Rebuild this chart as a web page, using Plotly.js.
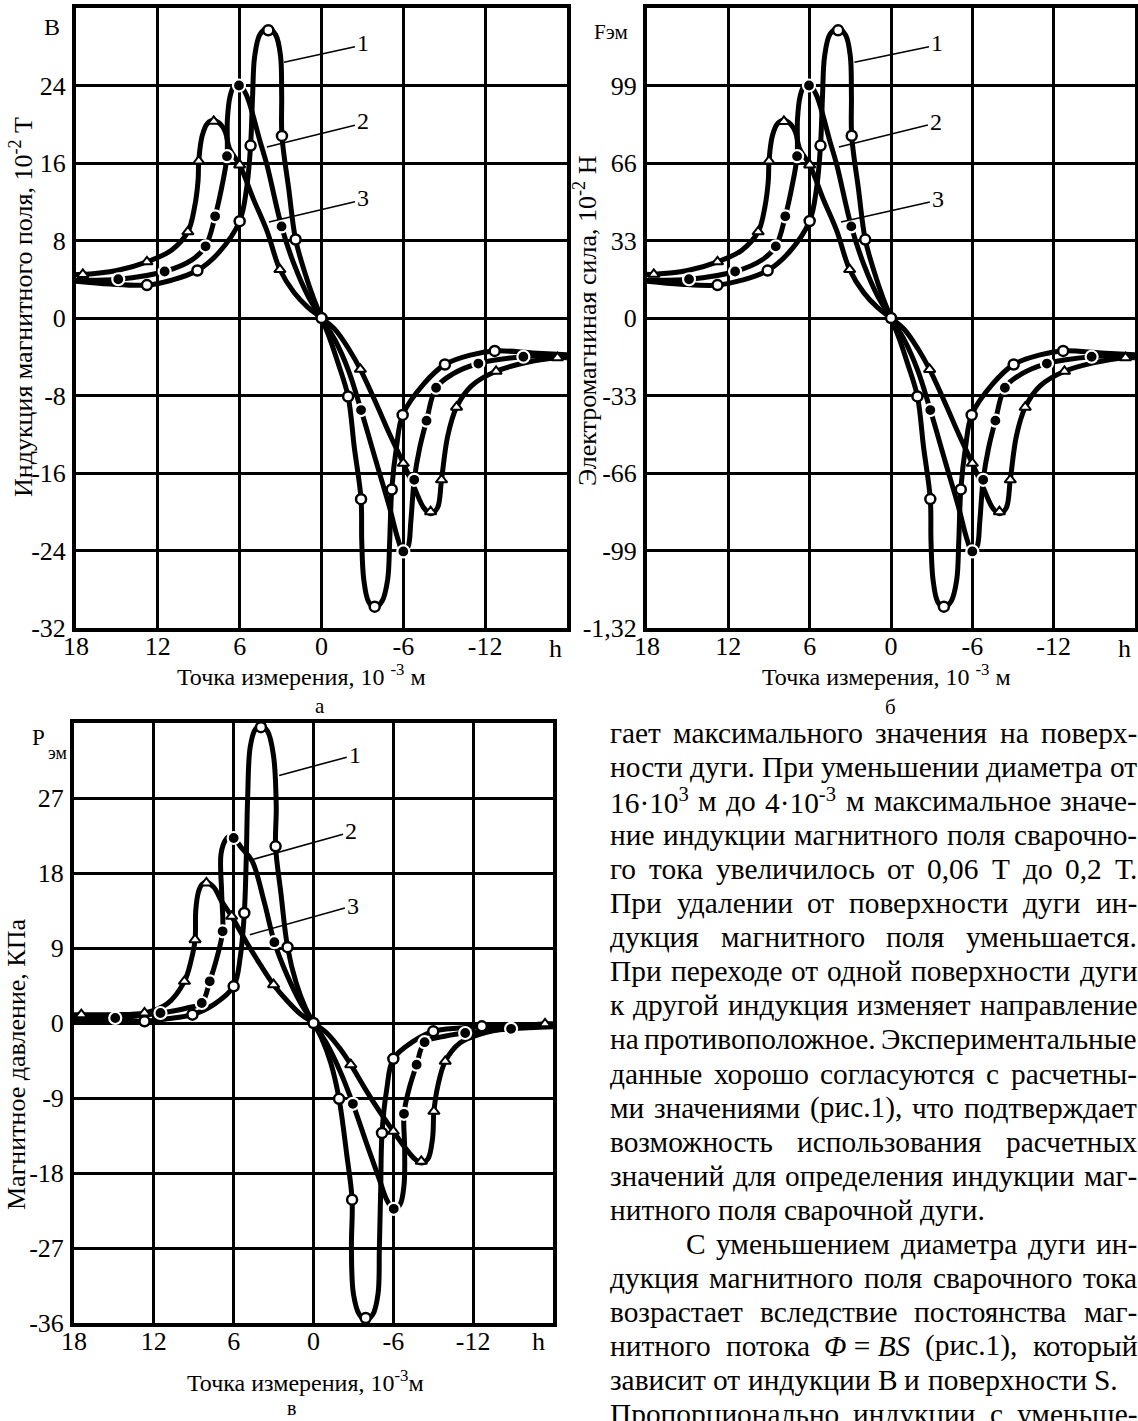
<!DOCTYPE html>
<html><head><meta charset="utf-8">
<script src="https://cdn.plot.ly/plotly-3.0.1.min.js"></script>
<style>html,body{margin:0;padding:0;background:#fff;overflow:hidden}#chart{width:1138px;height:1421px}</style>
</head><body><div id="chart"></div>
<script>
// ---------- tick labels ----------
const xTickVals = [18, 12, 6, 0, -6, -12];
const xTickText = ['18', '12', '6', '0', '-6', '-12'];
const yTickValsA = [-32, -24, -16, -8, 0, 8, 16, 24];
const yTickTextA = ['-32', '-24', '-16', '-8', '0', '8', '16', '24'];
const yTickValsB = [-132, -99, -66, -33, 0, 33, 66, 99];
const yTickTextB = ['-1,32', '-99', '-66', '-33', '0', '33', '66', '99'];
const yTickValsC = [-36, -27, -18, -9, 0, 9, 18, 27];
const yTickTextC = ['-36', '-27', '-18', '-9', '0', '9', '18', '27'];
const curveNames = ['1', '2', '3'];

// ---------- panel а : induction B, 10^-2 T ----------
const aLine1X = [18, 15.5, 12.8, 11, 9.1, 7.5, 6.0, 5.5, 5.2, 5.05, 4.9, 4.5, 3.9, 3.35, 3.0, 2.92, 2.9, 2.4, 1.9, 1.2, 0.6, 0, -0.6, -1.2, -1.95, -2.4, -2.9, -2.95, -3.1, -3.45, -3.9, -4.45, -4.85, -5.0, -5.15, -5.5, -5.95, -7.5, -9.05, -11, -12.7, -15.5, -18];
const aLine1Y = [3.8, 3.5, 3.4, 3.9, 4.9, 6.8, 10.0, 13.3, 17.8, 23.0, 27.0, 29.3, 29.9, 29.2, 27.0, 23.0, 18.8, 13.3, 8.1, 4.6, 2.1, 0, -2.1, -4.6, -8.1, -13.3, -18.7, -23.0, -27.0, -29.3, -29.9, -29.2, -27.0, -23.0, -17.7, -13.3, -10.0, -6.8, -4.8, -3.8, -3.4, -3.6, -3.8];
const aLine2X = [18, 14.9, 11.5, 9.5, 8.5, 7.8, 7.3, 6.93, 6.9, 6.7, 6.4, 6.05, 5.5, 4.5, 4.0, 2.93, 2.0, 1.0, 0, -1.0, -2.0, -2.9, -4.0, -5.0, -5.6, -6.0, -6.35, -6.55, -6.8, -7.2, -7.7, -8.4, -9.6, -11.5, -14.8, -18];
const aLine2Y = [3.9, 4.0, 4.8, 6.0, 7.4, 10.5, 13.6, 16.7, 20.5, 22.9, 24.0, 24.2, 23.0, 18.2, 15.8, 9.45, 5.5, 2.3, 0, -2.3, -5.5, -9.5, -14.8, -19.6, -22.8, -24.2, -23.6, -21.0, -16.7, -13.4, -10.6, -7.2, -5.8, -4.7, -4.0, -3.9];
const aLine3X = [18, 17.5, 15, 12.8, 11, 9.8, 9.3, 9.05, 9.0, 8.75, 8.35, 7.9, 7.4, 7.05, 6.75, 6.0, 5.0, 4.0, 3.05, 2.0, 1.0, 0, -1.0, -2.0, -2.85, -4.0, -5.0, -6.0, -6.8, -7.5, -8.0, -8.5, -8.8, -9.25, -9.9, -11, -12.8, -15, -17.3, -18];
const aLine3Y = [4.5, 4.5, 4.9, 5.8, 7.0, 8.9, 11.5, 14.2, 16.2, 18.8, 20.1, 20.4, 20.0, 19.2, 17.5, 15.8, 12.3, 9.0, 5.0, 2.6, 1.1, 0, -1.2, -3.2, -5.3, -8.8, -12.0, -15.0, -17.5, -19.6, -20.2, -19.6, -16.7, -12.2, -9.2, -7.0, -5.5, -4.6, -4.1, -4.1];
const aMark1X = [12.8, 9.1, 6.0, 5.2, 3.9, 2.9, 1.9, 0, -1.95, -2.9, -3.9, -5.15, -5.95, -9.05, -12.7];
const aMark1Y = [3.4, 4.9, 10.0, 17.8, 29.7, 18.8, 8.1, 0, -8.1, -18.7, -29.8, -17.7, -10.0, -4.8, -3.4];
const aMark2X = [14.9, 11.5, 8.5, 7.8, 6.93, 6.05, 2.93, -2.9, -6.0, -6.8, -7.7, -8.4, -11.5, -14.8];
const aMark2Y = [4.0, 4.8, 7.4, 10.5, 16.7, 24.0, 9.45, -9.5, -24.1, -16.7, -10.6, -7.2, -4.7, -4.0];
const aMark3X = [17.5, 12.8, 9.8, 9.0, 7.9, 6.0, 3.05, -2.85, -6.0, -8.0, -8.8, -9.9, -12.8, -17.3];
const aMark3Y = [4.5, 5.8, 8.9, 16.2, 20.3, 15.8, 5.0, -5.3, -15.0, -20.0, -16.7, -9.2, -5.5, -4.1];

// ---------- panel б : electromagnetic force, 10^-2 N ----------
const bLine1X = [18, 15.5, 12.8, 11, 9.1, 7.5, 6.0, 5.5, 5.2, 5.05, 4.9, 4.5, 3.9, 3.35, 3.0, 2.92, 2.9, 2.4, 1.9, 1.2, 0.6, 0, -0.6, -1.2, -1.95, -2.4, -2.9, -2.95, -3.1, -3.45, -3.9, -4.45, -4.85, -5.0, -5.15, -5.5, -5.95, -7.5, -9.05, -11, -12.7, -15.5, -18];
const bLine1Y = [15.7, 14.4, 14.0, 16.1, 20.2, 28.1, 41.3, 54.9, 73.4, 94.9, 111.4, 120.9, 123.3, 120.5, 111.4, 94.9, 77.6, 54.9, 33.4, 19.0, 8.7, 0, -8.7, -19.0, -33.4, -54.9, -77.1, -94.9, -111.4, -120.9, -123.3, -120.5, -111.4, -94.9, -73.0, -54.9, -41.3, -28.1, -19.8, -15.7, -14.0, -14.9, -15.7];
const bLine2X = [18, 14.9, 11.5, 9.5, 8.5, 7.8, 7.3, 6.93, 6.9, 6.7, 6.4, 6.05, 5.5, 4.5, 4.0, 2.93, 2.0, 1.0, 0, -1.0, -2.0, -2.9, -4.0, -5.0, -5.6, -6.0, -6.35, -6.55, -6.8, -7.2, -7.7, -8.4, -9.6, -11.5, -14.8, -18];
const bLine2Y = [16.1, 16.5, 19.8, 24.8, 30.5, 43.3, 56.1, 68.9, 84.6, 94.5, 99.0, 99.8, 94.9, 75.1, 65.2, 39.0, 22.7, 9.5, 0, -9.5, -22.7, -39.2, -61.1, -80.9, -94.1, -99.8, -97.4, -86.6, -68.9, -55.3, -43.7, -29.7, -23.9, -19.4, -16.5, -16.1];
const bLine3X = [18, 17.5, 15, 12.8, 11, 9.8, 9.3, 9.05, 9.0, 8.75, 8.35, 7.9, 7.4, 7.05, 6.75, 6.0, 5.0, 4.0, 3.05, 2.0, 1.0, 0, -1.0, -2.0, -2.85, -4.0, -5.0, -6.0, -6.8, -7.5, -8.0, -8.5, -8.8, -9.25, -9.9, -11, -12.8, -15, -17.3, -18];
const bLine3Y = [18.6, 18.6, 20.2, 23.9, 28.9, 36.7, 47.4, 58.6, 66.8, 77.6, 82.9, 84.2, 82.5, 79.2, 72.2, 65.2, 50.7, 37.1, 20.6, 10.7, 4.5, 0, -5.0, -13.2, -21.9, -36.3, -49.5, -61.9, -72.2, -80.9, -83.3, -80.9, -68.9, -50.3, -38.0, -28.9, -22.7, -19.0, -16.9, -16.9];
const bMark1X = [12.8, 9.1, 6.0, 5.2, 3.9, 2.9, 1.9, 0, -1.95, -2.9, -3.9, -5.15, -5.95, -9.05, -12.7];
const bMark1Y = [14.0, 20.2, 41.3, 73.4, 122.5, 77.6, 33.4, 0, -33.4, -77.1, -122.9, -73.0, -41.3, -19.8, -14.0];
const bMark2X = [14.9, 11.5, 8.5, 7.8, 6.93, 6.05, 2.93, -2.9, -6.0, -6.8, -7.7, -8.4, -11.5, -14.8];
const bMark2Y = [16.5, 19.8, 30.5, 43.3, 68.9, 99.0, 39.0, -39.2, -99.4, -68.9, -43.7, -29.7, -19.4, -16.5];
const bMark3X = [17.5, 12.8, 9.8, 9.0, 7.9, 6.0, 3.05, -2.85, -6.0, -8.0, -8.8, -9.9, -12.8, -17.3];
const bMark3Y = [18.6, 23.9, 36.7, 66.8, 83.7, 65.2, 20.6, -21.9, -61.9, -82.5, -68.9, -38.0, -22.7, -16.9];

// ---------- panel в : magnetic pressure, kPa ----------
const cLine1X = [18, 15.5, 12.7, 11, 9.1, 7.5, 6.0, 5.5, 5.2, 5.05, 4.95, 4.75, 4.35, 3.95, 3.45, 3.0, 2.8, 2.85, 2.45, 1.95, 1.3, 0.6, 0, -0.6, -1.3, -1.92, -2.5, -2.9, -2.85, -3.0, -3.45, -3.92, -4.45, -4.85, -4.95, -5.05, -5.15, -5.5, -6.0, -7.5, -9.0, -11, -12.65, -15.5, -18];
const cLine1Y = [0.4, 0.25, 0.2, 0.5, 1.0, 2.2, 4.4, 8.0, 13.2, 20.0, 27.0, 33.2, 35.3, 35.6, 35.0, 32.0, 26.0, 21.2, 15.6, 9.1, 4.8, 1.8, 0, -1.8, -4.8, -9.1, -15.8, -21.2, -27.0, -32.5, -35.0, -35.6, -35.0, -32.5, -27.0, -20.0, -13.2, -8.0, -4.3, -2.2, -1.0, -0.6, -0.4, -0.3, -0.25];
const cLine2X = [18, 14.9, 11.5, 9.5, 8.4, 7.8, 7.3, 6.83, 6.9, 6.95, 6.6, 6.25, 6.0, 5.4, 4.6, 3.7, 2.94, 2.0, 1.0, 0, -1.0, -2.0, -2.96, -4.0, -5.0, -5.5, -6.03, -6.5, -6.8, -6.85, -6.8, -7.2, -7.75, -8.35, -9.5, -11.4, -14.85, -18];
const cLine2Y = [0.5, 0.6, 1.2, 1.8, 2.4, 5.0, 7.6, 11.0, 15.5, 20.3, 22.0, 22.4, 22.25, 21.0, 19.4, 14.5, 9.7, 5.8, 2.5, 0, -2.5, -5.8, -9.7, -14.5, -19.0, -21.2, -22.4, -21.8, -19.5, -15.0, -10.9, -7.8, -5.0, -2.3, -1.7, -1.2, -0.7, -0.45];
const cLine3X = [18, 17.45, 15, 12.7, 11, 9.7, 9.2, 8.9, 8.85, 8.65, 8.4, 8.05, 7.5, 6.9, 6.15, 5.0, 4.0, 3.0, 2.0, 1.0, 0, -1.0, -2.0, -2.8, -4.0, -5.0, -6.0, -7.0, -7.6, -8.1, -8.6, -8.95, -9.05, -9.35, -9.9, -11, -12.8, -15, -17.4, -18];
const cLine3Y = [1.0, 1.0, 1.0, 1.2, 2.3, 5.0, 7.5, 10.0, 13.5, 15.7, 16.6, 16.9, 16.3, 14.6, 12.8, 9.6, 7.0, 4.6, 2.7, 1.1, 0, -1.2, -3.1, -5.0, -8.2, -10.7, -13.0, -15.2, -16.3, -16.8, -16.3, -13.8, -10.6, -7.5, -4.6, -2.4, -1.2, -0.5, -0.1, -0.1];
const cMark1X = [12.7, 9.1, 6.0, 5.2, 3.95, 2.85, 1.95, 0, -1.92, -2.9, -3.92, -5.15, -6.0, -9.0, -12.65];
const cMark1Y = [0.2, 1.0, 4.4, 13.2, 35.5, 21.2, 9.1, 0, -9.1, -21.2, -35.4, -13.2, -4.3, -1.0, -0.4];
const cMark2X = [14.9, 11.5, 8.4, 7.8, 6.83, 6.0, 2.94, -2.96, -6.03, -6.8, -7.75, -8.35, -11.4, -14.85];
const cMark2Y = [0.6, 1.2, 2.4, 5.0, 11.0, 22.2, 9.7, -9.7, -22.3, -10.9, -5.0, -2.3, -1.2, -0.7];
const cMark3X = [17.45, 12.7, 9.7, 8.9, 8.05, 6.15, 3.0, -2.8, -6.0, -8.1, -9.05, -9.9, -17.4];
const cMark3Y = [1.0, 1.2, 5.0, 10.0, 16.8, 12.8, 4.6, -5.0, -13.0, -16.6, -10.6, -4.6, -0.1];

// ---------- body text ----------
const bodyLines = [
  ['гает максимального значения на поверх-', 'j'],
  ['ности дуги. При уменьшении диаметра от', 'j'],
  ['16·10<sup>3</sup> м до 4·10<sup>-3</sup> м максимальное значе-', 'j'],
  ['ние индукции магнитного поля сварочно-', 'j'],
  ['го тока увеличилось от 0,06 Т до 0,2 Т.', 'j'],
  ['При удалении от поверхности дуги ин-', 'j'],
  ['дукция магнитного поля уменьшается.', 'j'],
  ['При переходе от одной поверхности дуги', 'j'],
  ['к другой индукция изменяет направление', 'j'],
  ['на противоположное. Экспериментальные', 'j'],
  ['данные хорошо согласуются с расчетны-', 'j'],
  ['ми значениями (рис.1), что подтверждает', 'j'],
  ['возможность использования расчетных', 'j'],
  ['значений для определения индукции маг-', 'j'],
  ['нитного поля сварочной дуги.', 'l'],
  ['С уменьшением диаметра дуги ин-', 'ji'],
  ['дукция магнитного поля сварочного тока', 'j'],
  ['возрастает вследствие постоянства маг-', 'j'],
  ['нитного потока <i>Φ</i>\u00a0=\u00a0<i>BS</i> (рис.1), который', 'j'],
  ['зависит от индукции В и поверхности S.', 'l'],
  ['Пропорционально индукции с уменьше-', 'j']
];

// ================= drawing =================
const W = 1138, H = 1421;
const FONT = 'Liberation Serif, Times New Roman, serif';
const px = v => v / W, py = v => 1 - v / H;

const lineStyle = {color: '#000', width: 5, shape: 'spline', smoothing: 1};
const markStyles = [
  {symbol: 'circle', size: 10, color: '#fff', line: {color: '#000', width: 2.5}},
  {symbol: 'circle', size: 12, color: '#000', line: {color: '#fff', width: 2.2}},
  {symbol: 'triangle-up', size: 10, color: '#fff', line: {color: '#000', width: 2}}
];
function panelTraces(xa, ya, lines, marks) {
  const t = [];
  lines.forEach((l, i) => t.push({x: l[0], y: l[1], xaxis: xa, yaxis: ya, type: 'scatter', mode: 'lines',
    line: lineStyle, name: 'кривая ' + curveNames[i], hoverinfo: 'skip', showlegend: false}));
  marks.forEach((m, i) => t.push({x: m[0], y: m[1], xaxis: xa, yaxis: ya, type: 'scatter', mode: 'markers',
    marker: markStyles[i], name: 'кривая ' + curveNames[i], showlegend: false}));
  return t;
}
const data = [].concat(
  panelTraces('x', 'y', [[aLine1X, aLine1Y], [aLine2X, aLine2Y], [aLine3X, aLine3Y]], [[aMark1X, aMark1Y], [aMark2X, aMark2Y], [aMark3X, aMark3Y]]),
  panelTraces('x2', 'y2', [[bLine1X, bLine1Y], [bLine2X, bLine2Y], [bLine3X, bLine3Y]], [[bMark1X, bMark1Y], [bMark2X, bMark2Y], [bMark3X, bMark3Y]]),
  panelTraces('x3', 'y3', [[cLine1X, cLine1Y], [cLine2X, cLine2Y], [cLine3X, cLine3Y]], [[cMark1X, cMark1Y], [cMark2X, cMark2Y], [cMark3X, cMark3Y]])
);

function xAxis(l, r, anchor) {
  return {domain: [px(l), px(r)], anchor: anchor, range: [18, -18], tickvals: xTickVals, ticktext: xTickText,
    showgrid: true, gridcolor: '#000', gridwidth: 3, zeroline: false, showline: true, mirror: true,
    linecolor: '#000', linewidth: 4, ticks: '', ticklabelstandoff: -8,
    tickfont: {family: FONT, size: 26, color: '#000'}, fixedrange: true};
}
function yAxis(t, b, anchor, range, vals, text) {
  return {domain: [py(b), py(t)], anchor: anchor, range: range, tickvals: vals, ticktext: text,
    showgrid: true, gridcolor: '#000', gridwidth: 3, zeroline: false, showline: true, mirror: true,
    linecolor: '#000', linewidth: 4, ticks: '', ticklabelstandoff: 1,
    tickfont: {family: FONT, size: 26, color: '#000'}, fixedrange: true};
}

const ann = [];
function txt(text, x, y, size, opts) {
  ann.push(Object.assign({text: text, x: px(x), y: py(y), xref: 'paper', yref: 'paper', showarrow: false,
    xanchor: 'center', yanchor: 'middle', font: {family: FONT, size: size, color: '#000'}}, opts || {}));
}
// axis titles
txt('Индукция магнитного поля, 10<sup>-2</sup> Т', 21, 307, 26, {textangle: -90});
txt('Электромагниная сила, 10<sup>-2</sup> Н', 585, 321, 26, {textangle: -90});
txt('Магнитное давление, КПа', 16, 1065, 26, {textangle: -90});
txt('Точка измерения, 10 <sup>-3</sup> м', 301, 675, 24);
txt('Точка измерения, 10 <sup>-3</sup> м', 886, 675, 24);
txt('Точка измерения, 10<sup>-3</sup>м', 305, 1381, 24);
// quantity symbols and "h"
txt('В', 52, 27, 24);
txt('Fэм', 611, 32, 21);
txt('P', 38, 737, 23);
txt('эм', 57, 753, 18);
txt('h', 555, 648, 26);
txt('h', 1124, 648, 26);
txt('h', 538, 1341, 26);
// panel letters
txt('а', 320, 706, 21);
txt('б', 890, 707, 21);
txt('в', 291, 1421, 20, {yanchor: 'bottom'});

// curve labels with leader lines
const shapes = [];
function leader(xa, ya, x0, y0, x1, y1, label, ly) {
  shapes.push({type: 'line', xref: xa, yref: ya, x0: x0, y0: y0, x1: x1, y1: y1, line: {color: '#000', width: 1.6}});
  ann.push({text: label, x: x1, y: ly, xref: xa, yref: ya, showarrow: false, xanchor: 'left', yanchor: 'middle',
    font: {family: FONT, size: 24, color: '#000'}});
}
leader('x', 'y', 2.75, 26.4, -2.45, 28.0, curveNames[0], 28.4);
leader('x', 'y', 4.0, 17.65, -2.45, 19.9, curveNames[1], 20.3);
leader('x', 'y', 3.85, 9.9, -2.45, 12.0, curveNames[2], 12.4);
leader('x2', 'y2', 2.7, 108.9, -2.8, 115.5, curveNames[0], 117);
leader('x2', 'y2', 3.84, 72.8, -2.72, 82.2, curveNames[1], 83.6);
leader('x2', 'y2', 3.69, 40.9, -2.87, 49.4, curveNames[2], 50.8);
leader('x3', 'y3', 2.58, 29.7, -2.5, 31.9, curveNames[0], 32.2);
leader('x3', 'y3', 4.64, 19.6, -2.22, 22.65, curveNames[1], 23.0);
leader('x3', 'y3', 4.78, 10.6, -2.36, 13.8, curveNames[2], 14.1);

// justified body text
const ctx = document.createElement('canvas').getContext('2d');
function measure(html, fs) {
  let total = 0; const re = /<(sup|i)>(.*?)<\/\1>|([^<]+)/g; let m;
  while ((m = re.exec(html))) {
    if (m[3] !== undefined) { ctx.font = fs + 'px ' + FONT; total += ctx.measureText(m[3]).width; }
    else if (m[1] === 'sup') { ctx.font = (fs * 0.7) + 'px ' + FONT; total += ctx.measureText(m[2]).width; }
    else { ctx.font = 'italic ' + fs + 'px ' + FONT; total += ctx.measureText(m[2]).width; }
  }
  return total;
}
let fs = 100 * 375 / measure('нитного поля сварочной дуги.', 100);
fs = Math.max(24, Math.min(31, fs));
const left = 609, right = 1136, top0 = 733, step = 34.05;
bodyLines.forEach((ln, i) => {
  const words = ln[0].split(' ');
  const ws = words.map(w => measure(w, fs));
  const sum = ws.reduce((a, b) => a + b, 0);
  const x0 = ln[1] === 'ji' ? left + 76 : left;
  let gap = measure('a a', fs) - measure('aa', fs);
  if (ln[1] !== 'l' && words.length > 1) gap = (right - x0 - sum) / (words.length - 1);
  let x = x0;
  words.forEach((w, k) => {
    ann.push({text: w, x: px(x - 1), y: py(top0 + i * step), xref: 'paper', yref: 'paper', showarrow: false,
      xanchor: 'left', yanchor: 'middle', font: {family: FONT, size: fs, color: '#000'}});
    x += ws[k] + gap;
  });
});

const layout = {
  width: W, height: H, margin: {l: 0, r: 0, t: 0, b: 0, pad: 0},
  paper_bgcolor: '#fff', plot_bgcolor: '#fff', showlegend: false,
  font: {family: FONT, color: '#000'},
  xaxis: xAxis(76, 567, 'y'),
  yaxis: yAxis(8, 628, 'x', [-32, 32], yTickValsA, yTickTextA),
  xaxis2: xAxis(647, 1135, 'y2'),
  yaxis2: yAxis(8, 628, 'x2', [-132, 132], yTickValsB, yTickTextB),
  xaxis3: xAxis(74, 553, 'y3'),
  yaxis3: yAxis(723, 1323, 'x3', [-36, 36], yTickValsC, yTickTextC),
  annotations: ann, shapes: shapes
};
Plotly.newPlot('chart', data, layout, {displayModeBar: false, staticPlot: true});
</script></body></html>
